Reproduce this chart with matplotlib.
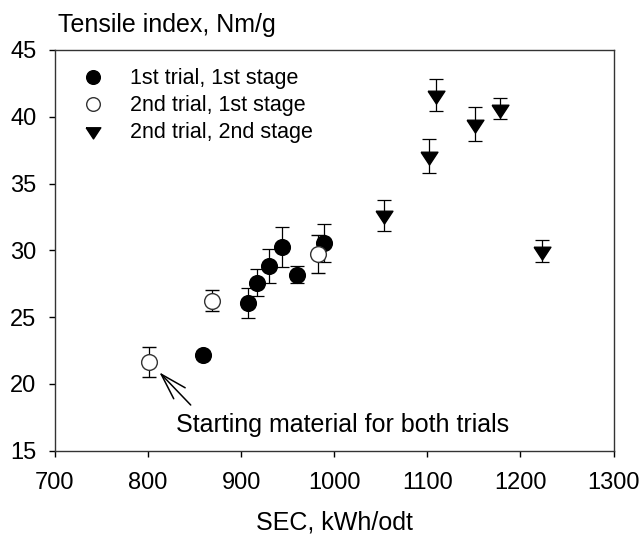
import matplotlib
matplotlib.use('Agg')
import matplotlib.pyplot as plt
from matplotlib.lines import Line2D

plt.rcParams['font.family'] = ['Liberation Sans', 'DejaVu Sans']

# 1st trial, 1st stage
sec_t1s1 = [858.8, 907.3, 917.5, 930.3, 943.5, 959.8, 989.4]
ti_t1s1 = [22.15, 26.06, 27.57, 28.82, 30.23, 28.18, 30.54]
err_t1s1 = [0.3, 1.1, 1.0, 1.3, 1.5, 0.65, 1.4]

# 2nd trial, 1st stage
sec_t2s1 = [800.6, 868.5, 982.8]
ti_t2s1 = [21.64, 26.24, 29.74]
err_t2s1 = [1.1, 0.78, 1.4]

# 2nd trial, 2nd stage
sec_t2s2 = [1053.8, 1102.3, 1109.4, 1150.8, 1177.7, 1222.7]
ti_t2s2 = [32.61, 37.05, 41.63, 39.44, 40.60, 29.95]
err_t2s2 = [1.15, 1.25, 1.18, 1.29, 0.77, 0.84]

# wide, flat down-triangle with its centroid on the data point
TRI = [(-1.0, 0.507), (1.0, 0.507), (0.0, -1.013), (-1.0, 0.507)]

fig = plt.figure(figsize=(6.41, 5.34), dpi=100)
ax = fig.add_axes([0.0858, 0.156, 0.8713, 0.7504])

eb = dict(ecolor='black', elinewidth=0.9, capsize=4.8, capthick=0.9, linestyle='none', zorder=3)
ax.errorbar(sec_t1s1, ti_t1s1, yerr=err_t1s1, fmt='o', ms=11.3, mfc='black', mec='black',
            label='1st trial, 1st stage', **eb)
ax.errorbar(sec_t2s1, ti_t2s1, yerr=err_t2s1, fmt='o', ms=11.3, mfc='white', mec='#333333',
            mew=1.0, label='2nd trial, 1st stage', **eb)
ax.errorbar(sec_t2s2, ti_t2s2, yerr=err_t2s2, fmt='none', **eb)
ax.plot(sec_t2s2, ti_t2s2, linestyle='none', marker=TRI, ms=12.3, mfc='black', mec='black',
        zorder=4)

ax.set_xlim(700, 1300)
ax.set_ylim(15, 45)
ax.set_xticks(range(700, 1301, 100))
ax.set_yticks(range(15, 46, 5))
ax.tick_params(direction='out', length=4.3, width=1, labelsize=17, pad=9)
ax.tick_params(axis='x', pad=11)
for s in ax.spines.values():
    s.set_linewidth(1.0)
    s.set_color('#333333')

ax.set_xlabel('SEC, kWh/odt', fontsize=18, labelpad=12)
fig.text(0.0905, 0.9395, 'Tensile index, Nm/g', fontsize=18, ha='left', va='baseline')

handles = [
    Line2D([], [], linestyle='none', marker='o', ms=11.3, mfc='black', mec='black'),
    Line2D([], [], linestyle='none', marker='o', ms=11.3, mfc='white', mec='#333333', mew=1.0),
    Line2D([], [], linestyle='none', marker=TRI, ms=12.3, mfc='black', mec='black'),
]
labels = ['1st trial, 1st stage', '2nd trial, 1st stage', '2nd trial, 2nd stage']
ax.legend(handles, labels, loc='upper left', bbox_to_anchor=(0.0136, 0.976), borderaxespad=0,
          frameon=False, fontsize=15.5, handlelength=2.0, handletextpad=0.73,
          labelspacing=0.28, markerscale=0.87)

ax.annotate('', xy=(812.1, 20.87), xytext=(845.8, 18.42),
            arrowprops=dict(arrowstyle='->,head_length=19,head_width=5.7', mutation_scale=1,
                            color='black', lw=1.1, shrinkA=0, shrinkB=0))
ax.text(830, 16.42, 'Starting material for both trials', fontsize=18, ha='left', va='baseline')

fig.savefig('out.png', dpi=100)
